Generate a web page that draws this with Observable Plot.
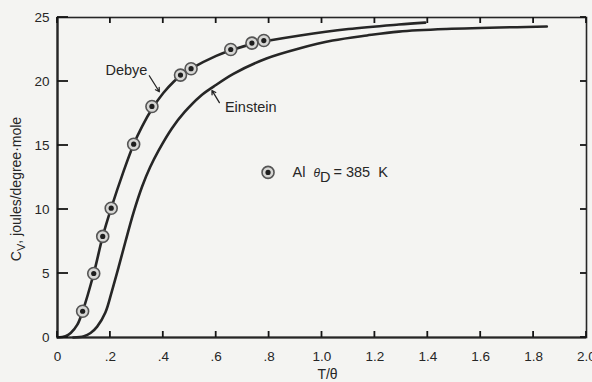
<!DOCTYPE html>
<html>
<head>
<meta charset="utf-8">
<script src="https://cdn.jsdelivr.net/npm/d3@7"></script>
<script src="https://cdn.jsdelivr.net/npm/@observablehq/plot@0.6"></script>
<style>
  html, body { margin: 0; padding: 0; background: #f4f4f2; }
  #chart { width: 592px; height: 382px; }
  svg { display: block; }
</style>
</head>
<body>
<div id="chart"></div>
<script>
// ---- Data (Cv in joules/degree·mole vs T/θ) ----
const debyeT  = [0, 0.03, 0.05, 0.075, 0.095, 0.137, 0.171, 0.203, 0.25, 0.288, 0.32, 0.357, 0.4, 0.44, 0.465, 0.505, 0.6, 0.665, 0.75, 0.8, 0.917, 1.1, 1.29, 1.39];
const debyeCv = [0, 0.1, 0.35, 1.0, 2.05, 5.0, 7.9, 10.1, 13.0, 15.1, 16.5, 17.85, 19.1, 20.0, 20.45, 21.0, 22.0, 22.5, 23.0, 23.2, 23.6, 24.1, 24.45, 24.6];

const einsteinT  = [0.06, 0.1, 0.125, 0.15, 0.181, 0.206, 0.231, 0.257, 0.288, 0.32, 0.35, 0.382, 0.433, 0.48, 0.54, 0.59, 0.665, 0.79, 0.917, 1.04, 1.17, 1.29, 1.47, 1.85];
const einsteinCv = [0, 0.1, 0.35, 0.85, 1.95, 3.65, 5.5, 7.5, 9.8, 11.8, 13.3, 14.6, 16.35, 17.6, 18.85, 19.6, 20.6, 21.8, 22.6, 23.2, 23.6, 23.9, 24.1, 24.3];

// Measured points for Al
const alT  = [0.095, 0.137, 0.171, 0.203, 0.288, 0.357, 0.465, 0.505, 0.655, 0.735, 0.78];
const alCv = [2.05, 5.0, 7.9, 10.1, 15.1, 18.05, 20.5, 21.0, 22.5, 23.0, 23.2];

// Ticks and labels
const xTicks = [0, 0.2, 0.4, 0.6, 0.8, 1.0, 1.2, 1.4, 1.6, 1.8, 2.0];
const xTickLabels = ["0", ".2", ".4", ".6", ".8", "1.0", "1.2", "1.4", "1.6", "1.8", "2.0"];
const yTicks = [0, 5, 10, 15, 20, 25];
const curveNames = ["Debye", "Einstein"];
const xLabel = "T/θ";
const yLabelMain = "C", yLabelSub = "V", yLabelRest = ", joules/degree·mole";
const legendName = "Al", legendSym = "θ", legendSub = "D", legendValue = "= 385", legendUnit = "K";

// Annotation anchors (data coordinates)
const debyeLabelAt = {x: 0.34, y: 20.9};
const debyeArrow = {x1: 0.347, y1: 20.45, x2: 0.385, y2: 19.2};
const einsteinLabelAt = {x: 0.633, y: 17.95};
const einsteinArrow = {x1: 0.612, y1: 18.35, x2: 0.584, y2: 19.3};
const legendAt = {x: 0.796, y: 12.9};

const debye = debyeT.map((t, i) => ({t, cv: debyeCv[i]}));
const einstein = einsteinT.map((t, i) => ({t, cv: einsteinCv[i]}));
const al = alT.map((t, i) => ({t, cv: alCv[i]}));
const xLabelMap = new Map(xTicks.map((v, i) => [v, xTickLabels[i]]));

const ink = "#262626";
const tickInk = "#151515";
const font = "'Liberation Sans', Arial, Helvetica, sans-serif";

const W = 592, H = 382, mL = 57, mR = 6, mT = 17, mB = 45;

const plot = Plot.plot({
  width: W,
  height: H,
  marginLeft: mL,
  marginRight: mR,
  marginTop: mT,
  marginBottom: mB,
  style: {background: "transparent", fontFamily: font, fontSize: "13.5px", color: ink},
  x: {domain: [0, 2]},
  y: {domain: [0, 25]},
  marks: [
    Plot.frame({stroke: ink, strokeWidth: 1.6}),
    Plot.ruleX([0], {stroke: ink, strokeWidth: 2.2}),
    Plot.ruleY([0], {stroke: ink, strokeWidth: 2.2}),
    // tick labels
    Plot.axisX(xTicks, {anchor: "bottom", tickSize: 0, tickPadding: 14, tickFormat: d => xLabelMap.get(d), label: null, fill: ink}),
    Plot.axisY(yTicks, {anchor: "left", tickSize: 0, tickPadding: 8, label: null, fill: ink}),
    // curves
    Plot.line(debye, {x: "t", y: "cv", stroke: ink, strokeWidth: 2.6, curve: "catmull-rom"}),
    Plot.line(einstein, {x: "t", y: "cv", stroke: ink, strokeWidth: 2.6, curve: "catmull-rom"}),
    // data points
    Plot.dot(al, {x: "t", y: "cv", r: 6, fill: "#d6d6d4", stroke: "#555", strokeWidth: 1.6}),
    Plot.dot(al, {x: "t", y: "cv", r: 2.6, fill: "#1e1e1e"}),
    // curve labels
    Plot.text([debyeLabelAt], {x: "x", y: "y", text: () => curveNames[0], textAnchor: "end", fontSize: 14.5, fill: ink}),
    Plot.text([einsteinLabelAt], {x: "x", y: "y", text: () => curveNames[1], textAnchor: "start", fontSize: 14.5, fill: ink}),
    Plot.arrow([debyeArrow], {x1: "x1", y1: "y1", x2: "x2", y2: "y2", stroke: ink, strokeWidth: 1.3, headLength: 5}),
    Plot.arrow([einsteinArrow], {x1: "x1", y1: "y1", x2: "x2", y2: "y2", stroke: ink, strokeWidth: 1.3, headLength: 5}),
    // legend marker
    Plot.dot([legendAt], {x: "x", y: "y", r: 6, fill: "#d6d6d4", stroke: "#555", strokeWidth: 1.6}),
    Plot.dot([legendAt], {x: "x", y: "y", r: 2.6, fill: "#1e1e1e"})
  ]
});

document.getElementById("chart").appendChild(plot);

const sx = plot.scale("x"), sy = plot.scale("y");
const svg = d3.select(plot);

// inward tick marks on all four sides, placed through Plot's scales
const x0 = sx.apply(0), x1 = sx.apply(2), y0 = sy.apply(0), y1 = sy.apply(25);
const tg = svg.append("g").attr("stroke", tickInk).attr("stroke-width", 1.8).attr("fill", "none");
xTicks.forEach(v => {
  const px = sx.apply(v);
  tg.append("line").attr("x1", px).attr("x2", px).attr("y1", y0).attr("y2", y0 - 6);
  tg.append("line").attr("x1", px).attr("x2", px).attr("y1", y1).attr("y2", y1 + 6);
});
yTicks.forEach(v => {
  const py = sy.apply(v);
  tg.append("line").attr("x1", x0).attr("x2", x0 + 11).attr("y1", py).attr("y2", py);
  tg.append("line").attr("x1", x1).attr("x2", x1 - 6).attr("y1", py).attr("y2", py);
});

// legend text with subscript
const lx = sx.apply(legendAt.x) + 25, ly = sy.apply(legendAt.y);
const lt = svg.append("text")
  .attr("x", lx).attr("y", ly).attr("dy", "0.35em")
  .attr("text-anchor", "start")
  .attr("font-family", font).attr("font-size", 14.5).attr("fill", ink);
lt.append("tspan").text(legendName);
lt.append("tspan").attr("dx", 8).attr("font-style", "italic").attr("font-size", 12).text(legendSym);
lt.append("tspan").attr("dy", 5).text(legendSub);
lt.append("tspan").attr("dy", -5).attr("dx", 3).text(legendValue);
lt.append("tspan").attr("dx", 8).text(legendUnit);

// x-axis label
svg.append("text")
  .attr("x", sx.apply(1.0) + 6).attr("y", 379)
  .attr("text-anchor", "middle")
  .attr("font-family", font).attr("font-size", 14).attr("fill", ink)
  .text(xLabel);

// y-axis label (rotated, with subscript)
const yl = svg.append("text")
  .attr("transform", `translate(21, ${(y0 + y1) / 2 + 12}) rotate(-90)`)
  .attr("text-anchor", "middle")
  .attr("font-family", font).attr("font-size", 14).attr("fill", ink);
yl.append("tspan").text(yLabelMain);
yl.append("tspan").attr("dy", 4).attr("font-size", 11).text(yLabelSub);
yl.append("tspan").attr("dy", -4).text(yLabelRest);
</script>
</body>
</html>
